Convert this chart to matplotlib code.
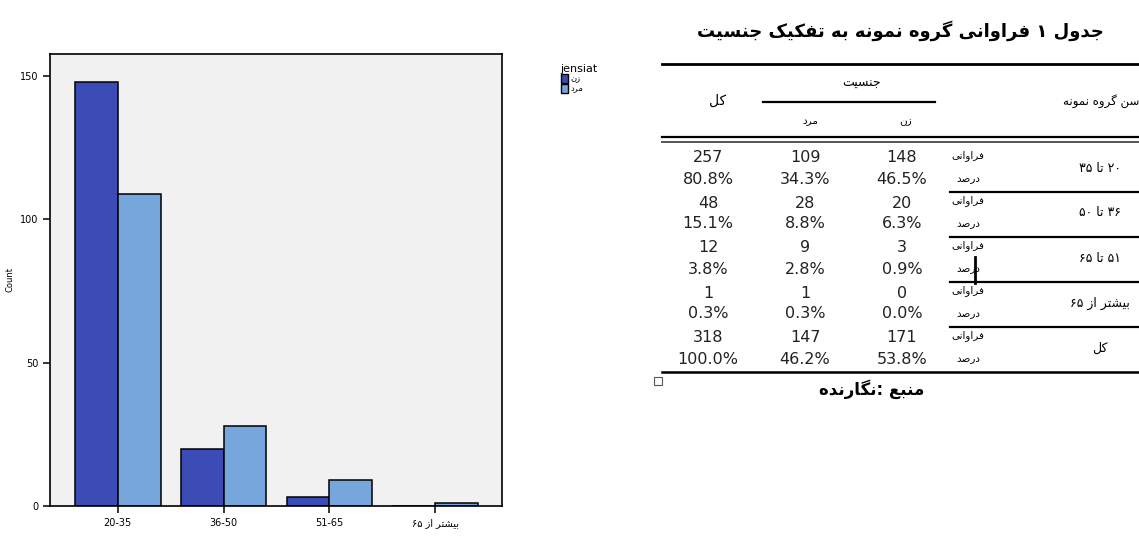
import re
import matplotlib
matplotlib.use("Agg")
import matplotlib.pyplot as plt
from matplotlib.patches import Patch
import numpy as np

age_groups = ["20-35", "36-50", "51-65", "بیشتر از ۶۵"]
zan = [148, 20, 3, 0]
mard = [109, 28, 9, 1]

row_labels = ["۲۰ تا ۳۵", "۳۶ تا ۵۰", "۵۱ تا ۶۵", "بیشتر از ۶۵", "کل"]
count_kol = [257, 48, 12, 1, 318]
count_mard = [109, 28, 9, 1, 147]
count_zan = [148, 20, 3, 0, 171]
pct_kol = ["80.8%", "15.1%", "3.8%", "0.3%", "100.0%"]
pct_mard = ["34.3%", "8.8%", "2.8%", "0.3%", "46.2%"]
pct_zan = ["46.5%", "6.3%", "0.9%", "0.0%", "53.8%"]

c_zan = "#3c4cb6"
c_mard = "#76a6dc"

# tiny Persian shaper (matplotlib draws no RTL / joining on its own)
FORMS = {
    'ا': ('\uFE8D', '\uFE8E', None, None),
    'ب': ('\uFE8F', '\uFE90', '\uFE91', '\uFE92'),
    'ت': ('\uFE95', '\uFE96', '\uFE97', '\uFE98'),
    'ج': ('\uFE9D', '\uFE9E', '\uFE9F', '\uFEA0'),
    'د': ('\uFEA9', '\uFEAA', None, None),
    'ر': ('\uFEAD', '\uFEAE', None, None),
    'ز': ('\uFEAF', '\uFEB0', None, None),
    'س': ('\uFEB1', '\uFEB2', '\uFEB3', '\uFEB4'),
    'ش': ('\uFEB5', '\uFEB6', '\uFEB7', '\uFEB8'),
    'ص': ('\uFEB9', '\uFEBA', '\uFEBB', '\uFEBC'),
    'ع': ('\uFEC9', '\uFECA', '\uFECB', '\uFECC'),
    'ف': ('\uFED1', '\uFED2', '\uFED3', '\uFED4'),
    'ل': ('\uFEDD', '\uFEDE', '\uFEDF', '\uFEE0'),
    'م': ('\uFEE1', '\uFEE2', '\uFEE3', '\uFEE4'),
    'ن': ('\uFEE5', '\uFEE6', '\uFEE7', '\uFEE8'),
    'ه': ('\uFEE9', '\uFEEA', '\uFEEB', '\uFEEC'),
    'و': ('\uFEED', '\uFEEE', None, None),
    'ی': ('\uFBFC', '\uFBFD', '\uFBFE', '\uFBFF'),
    'ک': ('\uFB8E', '\uFB8F', '\uFB90', '\uFB91'),
    'گ': ('\uFB92', '\uFB93', '\uFB94', '\uFB95'),
}


def fa(text):
    if not any(ch in FORMS for ch in text):
        return text
    out = []
    for i, ch in enumerate(text):
        if ch not in FORMS:
            out.append(ch)
            continue
        iso, fin, ini, med = FORMS[ch]
        prev = text[i - 1] if i > 0 else ''
        nxt = text[i + 1] if i + 1 < len(text) else ''
        jp = prev in FORMS and FORMS[prev][2] is not None
        jn = nxt in FORMS and ini is not None
        if jp and jn:
            out.append(med)
        elif jp:
            out.append(fin)
        elif jn:
            out.append(ini)
        else:
            out.append(iso)
    s = ''.join(out)[::-1]
    return re.sub(r'[0-9۰-۹.%]+', lambda m: m.group(0)[::-1], s)


fig = plt.figure(figsize=(11.39, 5.38), dpi=100)

# ---- bar chart ----
ax = fig.add_axes([50 / 1139, 32 / 538, 452 / 1139, 452 / 538])
ax.set_facecolor("#f1f1f1")
x = np.arange(len(age_groups))
w = 0.405
ax.bar(x - w, zan, w, align="edge", color=c_zan, edgecolor="black", linewidth=1.1)
ax.bar(x, mard, w, align="edge", color=c_mard, edgecolor="black", linewidth=1.1)
ax.set_xlim(-0.64, 3.63)
ax.set_ylim(0, 157.7)
ax.set_xticks(x)
ax.set_xticklabels([fa(a) for a in age_groups], fontsize=7)
ax.set_yticks([0, 50, 100, 150])
ax.tick_params(axis="both", labelsize=7, length=5, width=1.1)
for sp in ax.spines.values():
    sp.set_linewidth(1.2)
ax.set_ylabel("Count", fontsize=6)
ax.yaxis.set_label_coords(-0.078, 0.5)

handles = [Patch(facecolor=c_zan, edgecolor="black", label=fa("زن")),
           Patch(facecolor=c_mard, edgecolor="black", label=fa("مرد"))]
fig.legend(handles=handles, title="jensiat", loc="upper left",
           bbox_to_anchor=(553 / 1139, 1 - 56 / 538), frameon=False,
           fontsize=6, title_fontsize=8, handlelength=0.9, handleheight=1.2,
           handletextpad=0.3, labelspacing=0.1, alignment="left")

# ---- table (pixel coords) ----
tb = fig.add_axes([0, 0, 1, 1])
tb.set_xlim(0, 1139)
tb.set_ylim(538, 0)
tb.axis("off")

tb.text(900, 31, fa("جدول ۱ فراوانی گروه نمونه به تفکیک جنسیت"),
        ha="center", va="center", fontsize=13, fontweight="bold")
tb.plot([662, 1139], [64, 64], color="black", lw=2)
tb.text(862, 83, fa("جنسیت"), ha="center", va="center", fontsize=9)
tb.plot([763, 935], [102, 102], color="black", lw=1.6)
tb.text(718, 101, fa("کل"), ha="center", va="center", fontsize=10)
tb.text(1101, 101, fa("سن گروه نمونه"), ha="center", va="center", fontsize=8.5)
tb.text(810, 121, fa("مرد"), ha="center", va="center", fontsize=7.5)
tb.text(906, 121, fa("زن"), ha="center", va="center", fontsize=7.5)
tb.plot([662, 1139], [137, 137], color="black", lw=1.6)
tb.plot([662, 1139], [142, 142], color="#555555", lw=1.4)

col_x = [708, 805, 902]
for i, lab in enumerate(row_labels):
    yc = 158 + 45 * i
    yp = yc + 21
    for cx, v in zip(col_x, [count_kol[i], count_mard[i], count_zan[i]]):
        tb.text(cx, yc, str(v), ha="center", va="center", fontsize=11.5, color="#222222")
    for cx, v in zip(col_x, [pct_kol[i], pct_mard[i], pct_zan[i]]):
        tb.text(cx, yp, v, ha="center", va="center", fontsize=11.5, color="#222222")
    tb.text(968, yc - 2, fa("فراوانی"), ha="center", va="center", fontsize=7.5)
    tb.text(968, yp, fa("درصد"), ha="center", va="center", fontsize=7.5)
    tb.text(1100, yc + 10, fa(lab), ha="center", va="center", fontsize=9)
    if i < len(row_labels) - 1:
        tb.plot([950, 1139], [yc + 34, yc + 34], color="black", lw=1.6)

tb.plot([662, 1139], [372, 372], color="black", lw=1.8)
tb.plot([975, 975], [257, 283], color="black", lw=2)
tb.plot([658], [381], marker="s", ms=6, mfc="white", mec="#555555", mew=0.8)
tb.text(872, 389, fa("منبع :نگارنده"), ha="center", va="center",
        fontsize=12, fontweight="bold")

fig.savefig("out.png", dpi=100)
